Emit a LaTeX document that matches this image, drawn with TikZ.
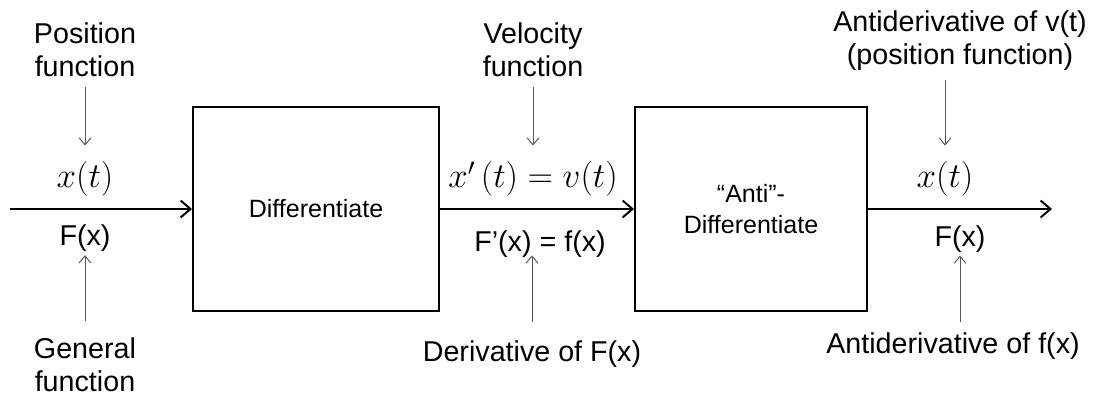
\documentclass[tikz,border=0pt]{standalone}
\usepackage{fontspec}
\setmainfont{Liberation Sans}
\usetikzlibrary{arrows.meta,positioning,calc}
\tikzstyle{block} = [draw,line width=1.4pt,align=center,inner sep=0pt,minimum height=5.1cm,font=\fontsize{17.8}{22}\selectfont]
\tikzstyle{lbl} = [inner sep=0pt,align=center,font=\fontsize{20.4}{23.5}\selectfont]
\tikzstyle{eq} = [inner sep=0pt,anchor=base,font=\fontsize{23.5}{28}\selectfont]
\tikzstyle{flow} = [line width=1.4pt,-{Straight Barb[length=7pt,width=12pt]}]
\tikzstyle{note} = [line width=0.7pt,black!65,-{Straight Barb[length=5pt,width=8.5pt]}]
\begin{document}
\begin{tikzpicture}[scale=1.0]
	\useasboundingbox (0,5.225) rectangle (27.35,-4.675);
	\coordinate (in) at (0.25,0);
	\coordinate (out) at (26.3,0);
	\node[block,minimum width=6.15cm] (diff) at (7.9,0) {Differentiate};
	\node[block,minimum width=5.8cm] (anti) at (18.775,0) {“Anti”-\\Differentiate};
	\draw[flow] (in) to (diff);
	\draw[flow] (diff) to (anti);
	\draw[flow] (anti) to (out);
	
	\node[eq] (xt1) at (2.125,0.525) {$x(t)$};
	\node[eq] (xv) at (13.325,0.525) {$x'\,(t)=v(t)$};
	\node[eq] (xt2) at (23.625,0.525) {$x(t)$};
	\node[lbl,anchor=base] (Fx1) at (2.125,-0.925) {F(x)};
	\node[lbl,anchor=base] (Fpx) at (13.5,-1.075) {F’(x) = f(x)};
	\node[lbl,anchor=base] (Fx2) at (24.0,-0.95) {F(x)};
	
	\node[lbl] (pos) at (2.125,3.99) {Position\\function};
	\node[lbl] (gen) at (2.125,-3.89) {General\\function};
	\node[lbl] (vel) at (13.325,3.99) {Velocity\\function};
	\node[lbl,anchor=base] (der) at (13.3,-3.825) {Derivative of F(x)};
	\node[lbl] (antiv) at (24.0,4.21) {Antiderivative of v(t)\\(position function)};
	\node[lbl,anchor=base] (antif) at (23.825,-3.6) {Antiderivative of f(x)};
	
	\draw[note,shorten <=0.25cm,shorten >=0.4cm] (pos.south) to (xt1.north);
	\draw[note,shorten <=0.4cm,shorten >=0.075cm] (gen.north) to (Fx1.south);
	\draw[note,shorten <=0.25cm,shorten >=0.4cm] (vel.south) to (xv.north);
	\draw[note,shorten <=0.475cm,shorten >=-0.07cm] (der.north) to (der |- Fpx.south);
	\draw[note,shorten <=0.225cm,shorten >=0.4cm] (antiv.south -| xt2) to (xt2.north);
	\draw[note,shorten <=0.25cm,shorten >=0.06cm] (antif.north -| Fx2) to (Fx2.south);
\end{tikzpicture}
\end{document}
